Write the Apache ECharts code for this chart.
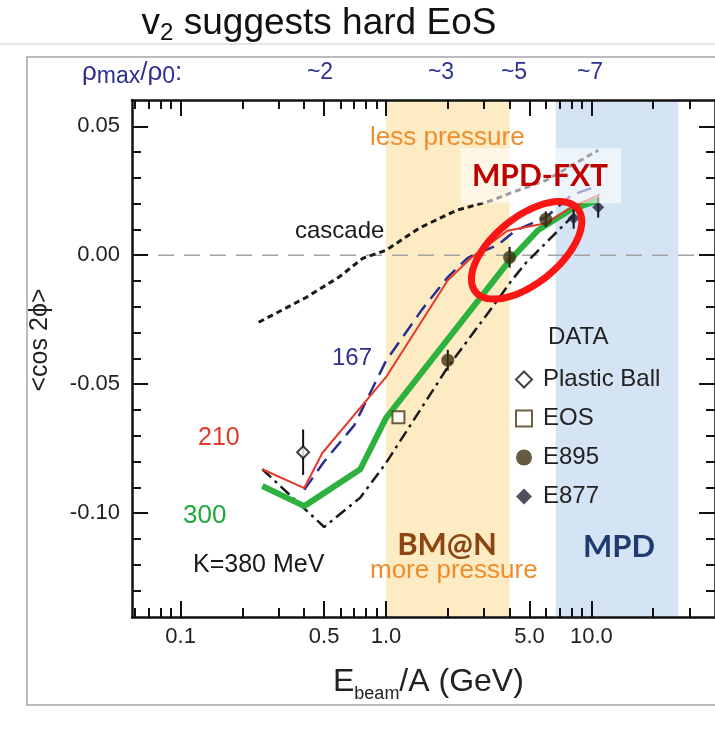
<!DOCTYPE html>
<html>
<head>
<meta charset="utf-8">
<script src="https://cdn.jsdelivr.net/npm/echarts@6/dist/echarts.min.js"></script>
<style>
  html, body { margin: 0; padding: 0; background: #fff; }
  #chart { width: 715px; height: 733px; }
</style>
</head>
<body>
<div id="chart"></div>
<script>
// Axis ranges: beam energy per nucleon (GeV, log) and elliptic flow <cos 2phi>
const X_MIN = 0.058, X_MAX = 40;
const Y_MIN = -0.1403, Y_MAX = 0.0602;

const xMajorTicks = [0.1, 0.5, 1, 5, 10];
const xTickLabels = ['0.1', '0.5', '1.0', '5.0', '10.0'];
const xMinorTicks = [0.06, 0.07, 0.08, 0.09, 0.2, 0.3, 0.4, 0.6, 0.7, 0.8, 0.9, 2, 3, 4, 6, 7, 8, 9, 20, 30];
const yMajorTicks = [-0.1, -0.05, 0, 0.05];
const yTickLabels = ['-0.10', '-0.05', '0.00', '0.05'];
const yMinorTicks = [-0.13, -0.12, -0.11, -0.09, -0.08, -0.07, -0.06, -0.04, -0.03, -0.02, -0.01, 0.01, 0.02, 0.03, 0.04];

// Experiment acceptance bands (GeV): BM@N and MPD
const bmnBand = [1.0, 4.0];
const mpdBand = [6.7, 26.5];

// Transport model curves [E_beam/A, <cos 2phi>]
const cascade = [[0.24, -0.026], [0.41, -0.0163], [0.59, -0.0085], [0.77, -0.0012], [1.0, 0.0019], [1.45, 0.0105], [2.2, 0.0174], [3.3, 0.0213], [4.0, 0.024], [6.0, 0.029], [10.8, 0.0407]];
const k167 = [[0.4, -0.091], [0.5, -0.080], [0.7, -0.066], [1.0, -0.041], [1.5, -0.021], [2.0, -0.0085], [2.5, -0.001], [3.5, 0.004], [4.3, 0.0097], [6.0, 0.0147], [8.0, 0.0233], [10.8, 0.027]];
const k210 = [[0.25, -0.083], [0.4, -0.0903], [0.49, -0.0767], [1.0, -0.0473], [2.0, -0.0097], [2.6, -0.001], [3.9, 0.0095], [6.0, 0.0124], [8.0, 0.0186], [11.0, 0.0235]];
const k300 = [[0.25, -0.0895], [0.4, -0.0973], [0.75, -0.083], [1.0, -0.0632], [4.0, -0.002], [5.5, 0.0097], [8.0, 0.0178], [10.8, 0.0213]];
const k380 = [[0.25, -0.083], [0.5, -0.1054], [0.75, -0.094], [1.0, -0.0806], [2.0, -0.0434], [3.3, -0.0201], [4.1, -0.0097], [4.8, -0.003], [8.0, 0.0147], [9.3, 0.018]];

// Measurements [E_beam/A, <cos 2phi>, error]
const plasticBall = [[0.395, -0.0764, 0.0088]];
const eos = [[1.15, -0.0628, 0]];
const e895 = [[2.0, -0.0407, 0.004], [4.0, -0.0008, 0.004], [6.0, 0.0140, 0.003]];
const e877 = [[8.2, 0.0143, 0.004], [10.8, 0.0186, 0.004]];

// Highlighted MPD fixed-target region
const fxtBox = [[2.31, 0.0202, 13.96, 0.0415]];
const fxtRing = [[2.73, -0.0142, 8.58, 0.018]];

const FONT = '"Liberation Sans", Arial, sans-serif';
const BOLD = 'Lato, "Open Sans", sans-serif';
const NAVY = '#2e3192';
const ORANGE = '#ef8d2c';

function xAxisDef(position, ticks, len, withLine, withLabels) {
  return {
    type: 'log', logBase: 10, min: X_MIN, max: X_MAX, position: position, z: 5,
    axisLine: { show: withLine, onZero: false, lineStyle: { color: '#111', width: 2.5 } },
    axisTick: { show: true, inside: true, length: len, customValues: ticks, lineStyle: { color: '#111', width: 2 } },
    axisLabel: withLabels ? {
      show: true, customValues: xMajorTicks, margin: 9, fontSize: 22, color: '#222', fontFamily: FONT,
      formatter: function (v) {
        const i = xMajorTicks.findIndex(t => Math.abs(t - v) / t < 1e-6);
        return i >= 0 ? xTickLabels[i] : '';
      }
    } : { show: false },
    splitLine: { show: false }, minorTick: { show: false }
  };
}
function yAxisDef(position, ticks, len, withLine, withLabels) {
  return {
    type: 'value', min: Y_MIN, max: Y_MAX, position: position, z: 5,
    axisLine: { show: withLine, onZero: false, lineStyle: { color: '#111', width: 2.5 } },
    axisTick: { show: true, inside: true, length: len, customValues: ticks, lineStyle: { color: '#111', width: 2 } },
    axisLabel: withLabels ? {
      show: true, customValues: yMajorTicks, margin: 12, fontSize: 22, color: '#222', fontFamily: FONT,
      formatter: function (v) {
        const i = yMajorTicks.findIndex(t => Math.abs(t - v) < 1e-9);
        return i >= 0 ? yTickLabels[i] : '';
      }
    } : { show: false },
    splitLine: { show: false }
  };
}

function lineSeries(name, data, color, width, type, z) {
  return {
    name: name, type: 'line', data: data, showSymbol: false, symbol: 'none', z: z || 3,
    lineStyle: { color: color, width: width, type: type, cap: 'butt' }, silent: true, animation: false
  };
}

function text(x, y, str, size, color, opts) {
  opts = opts || {};
  return {
    type: 'text', x: x, y: y, z: 100, rotation: opts.rotation || 0,
    style: {
      text: str, fill: color, font: (opts.weight || 'normal') + ' ' + size + 'px ' + (opts.family || FONT),
      align: opts.align || 'left', verticalAlign: opts.valign || 'middle', rich: opts.rich
    }
  };
}

const chart = echarts.init(document.getElementById('chart'), null, { renderer: 'canvas' });

const option = {
  animation: false,
  backgroundColor: '#fff',
  grid: { left: 132, top: 100, width: 587, height: 517 },
  xAxis: [
    xAxisDef('bottom', xMajorTicks, 16, true, true),
    xAxisDef('bottom', xMinorTicks, 9, false, false),
    xAxisDef('top', xMajorTicks, 16, true, false),
    xAxisDef('top', xMinorTicks, 9, false, false)
  ],
  yAxis: [
    yAxisDef('left', yMajorTicks, 16, true, true),
    yAxisDef('left', yMinorTicks, 9, false, false),
    yAxisDef('right', yMajorTicks, 16, true, false),
    yAxisDef('right', yMinorTicks, 9, false, false)
  ],
  legend: {
    data: ['Plastic Ball', 'EOS', 'E895', 'E877'],
    orient: 'vertical', left: 515, top: 367, padding: 0,
    itemWidth: 16, itemHeight: 16, itemGap: 14, selectedMode: false,
    textStyle: { fontSize: 24, color: '#222', fontFamily: FONT, lineHeight: 25, padding: [0, 0, 0, 6] }
  },
  series: [
    {
      // zero reference line, carries the acceptance bands
      type: 'line', data: [[X_MIN, 0], [X_MAX, 0]], showSymbol: false, symbol: 'none', z: 1, silent: true,
      lineStyle: { color: '#a3a3a3', width: 1.5, type: [16, 10] },
      markArea: {
        silent: true,
        data: [
          [{ xAxis: bmnBand[0], itemStyle: { color: '#fdebc3' } }, { xAxis: bmnBand[1] }],
          [{ xAxis: mpdBand[0], itemStyle: { color: '#d4e4f4' } }, { xAxis: mpdBand[1] }]
        ]
      }
    },
    lineSeries('cascade', cascade, '#1a1a1a', 3, [6, 4]),
    lineSeries('K=380', k380, '#1a1a1a', 2.5, [12, 5, 3, 5]),
    lineSeries('K=300', k300, '#2db23f', 6, 'solid'),
    lineSeries('K=167', k167, '#2b2f8f', 2.5, [15, 8]),
    lineSeries('K=210', k210, '#e5392c', 2, 'solid', 4),
    {
      // error bars
      type: 'custom', z: 5, silent: true,
      encode: { x: 0, y: 1 },
      data: plasticBall.concat(e895, e877),
      renderItem: function (params, api) {
        const x = api.value(0), y = api.value(1), e = api.value(2);
        const a = api.coord([x, y - e]), b = api.coord([x, y + e]);
        return { type: 'line', shape: { x1: a[0], y1: a[1], x2: b[0], y2: b[1] }, style: { stroke: '#111', lineWidth: 2 } };
      }
    },
    {
      name: 'Plastic Ball', type: 'scatter', data: plasticBall, symbol: 'diamond', symbolSize: 12, z: 6,
      itemStyle: { color: '#fff', borderColor: '#111', borderWidth: 2 }
    },
    {
      name: 'EOS', type: 'scatter', data: eos, symbol: 'rect', symbolSize: 12, z: 6,
      itemStyle: { color: '#fff', borderColor: '#4a3a14', borderWidth: 2 }
    },
    {
      name: 'E895', type: 'scatter', data: e895, symbol: 'circle', symbolSize: 13, z: 6,
      itemStyle: { color: '#3f3213' }
    },
    {
      name: 'E877', type: 'scatter', data: e877, symbol: 'diamond', symbolSize: 12, z: 6,
      itemStyle: { color: '#222633' }
    },
    {
      // translucent panel behind the MPD-FXT label
      type: 'custom', z: 7, silent: true,
      encode: { x: [0, 2], y: [1, 3] },
      data: fxtBox,
      renderItem: function (params, api) {
        const p1 = api.coord([api.value(0), api.value(1)]);
        const p2 = api.coord([api.value(2), api.value(3)]);
        return {
          type: 'rect',
          shape: { x: p1[0], y: p2[1], width: p2[0] - p1[0], height: p1[1] - p2[1] },
          style: { fill: 'rgba(255,255,255,0.58)' }
        };
      }
    },
    {
      // ring around the MPD-FXT energy range
      type: 'custom', z: 8, silent: true,
      encode: { x: [0, 2], y: [1, 3] },
      data: fxtRing,
      renderItem: function (params, api) {
        const a = api.coord([api.value(0), api.value(1)]);
        const b = api.coord([api.value(2), api.value(3)]);
        const cx = (a[0] + b[0]) / 2, cy = (a[1] + b[1]) / 2;
        const rx = Math.hypot(b[0] - a[0], b[1] - a[1]) / 2, ry = 33;
        const ang = Math.atan2(b[1] - a[1], b[0] - a[0]);
        const pts = [];
        for (let i = 0; i < 96; i++) {
          const t = i / 96 * Math.PI * 2;
          const ex = rx * Math.cos(t), ey = ry * Math.sin(t);
          pts.push([cx + ex * Math.cos(ang) - ey * Math.sin(ang), cy + ex * Math.sin(ang) + ey * Math.cos(ang)]);
        }
        return { type: 'polygon', shape: { points: pts }, style: { fill: 'none', stroke: '#fb1515', lineWidth: 7 } };
      }
    }
  ],
  graphic: [
    { type: 'line', z: 0, shape: { x1: 0, y1: 44, x2: 715, y2: 44 }, style: { stroke: '#dcdcdc', lineWidth: 1.5 } },
    { type: 'rect', z: 0, shape: { x: 27, y: 57, width: 700, height: 648 }, style: { fill: 'none', stroke: '#a5a5a5', lineWidth: 1.5 } },
    text(319, 5, '{m|v}{s|2}{m| suggests hard EoS}', 37, '#111', {
      align: 'center', valign: 'top',
      rich: {
        m: { fontSize: 37, lineHeight: 36, verticalAlign: 'top', fontFamily: FONT, fill: '#111' },
        s: { fontSize: 24, lineHeight: 56, fontFamily: FONT, fill: '#111' }
      }
    }),
    text(82, 60, '{r|ρ}{s|max}{q|/}{r|ρ}{s|0}{r|:}', 26, NAVY, {
      valign: 'top',
      rich: {
        r: { fontSize: 26, lineHeight: 28, verticalAlign: 'top', fontFamily: FONT, fill: NAVY },
        q: { fontSize: 26, lineHeight: 24, verticalAlign: 'top', fontFamily: FONT, fill: NAVY },
        s: { fontSize: 23, lineHeight: 34, fontFamily: FONT, fill: NAVY }
      }
    }),
    text(320, 73, '~2', 23, NAVY, { align: 'center' }),
    text(441, 73, '~3', 23, NAVY, { align: 'center' }),
    text(514, 73, '~5', 23, NAVY, { align: 'center' }),
    text(590, 73, '~7', 23, NAVY, { align: 'center' }),
    text(370, 138, 'less pressure', 26, ORANGE),
    text(540, 176, 'MPD-FXT', 30, '#c00000', { align: 'center', weight: 'bold', family: BOLD }),
    text(295, 231, 'cascade', 24, '#1a1a1a'),
    text(332, 358, '167', 24, NAVY),
    text(198, 438, '210', 25, '#e03a30'),
    text(183, 516, '300', 26, '#22a83a'),
    text(193, 565, 'K=380 MeV', 25, '#1a1a1a'),
    text(548, 337, 'DATA', 24, '#222'),
    text(447, 545, 'BM@N', 31, '#8b4513', { align: 'center', weight: 'bold', family: BOLD }),
    text(370, 571, 'more pressure', 26, ORANGE),
    text(619, 547, 'MPD', 31, '#1f3b6f', { align: 'center', weight: 'bold', family: BOLD }),
    text(40, 340, '<cos 2ϕ>', 25, '#222', { align: 'center', rotation: Math.PI / 2 }),
    text(333, 666, '{m|E}{s|beam}{m|/A (GeV)}', 32, '#222', {
      valign: 'top',
      rich: {
        m: { fontSize: 32, lineHeight: 32, verticalAlign: 'top', fontFamily: FONT, fill: '#222' },
        s: { fontSize: 18, lineHeight: 56, fontFamily: FONT, fill: '#222' }
      }
    })
  ]
};

chart.setOption(option);
</script>
</body>
</html>
